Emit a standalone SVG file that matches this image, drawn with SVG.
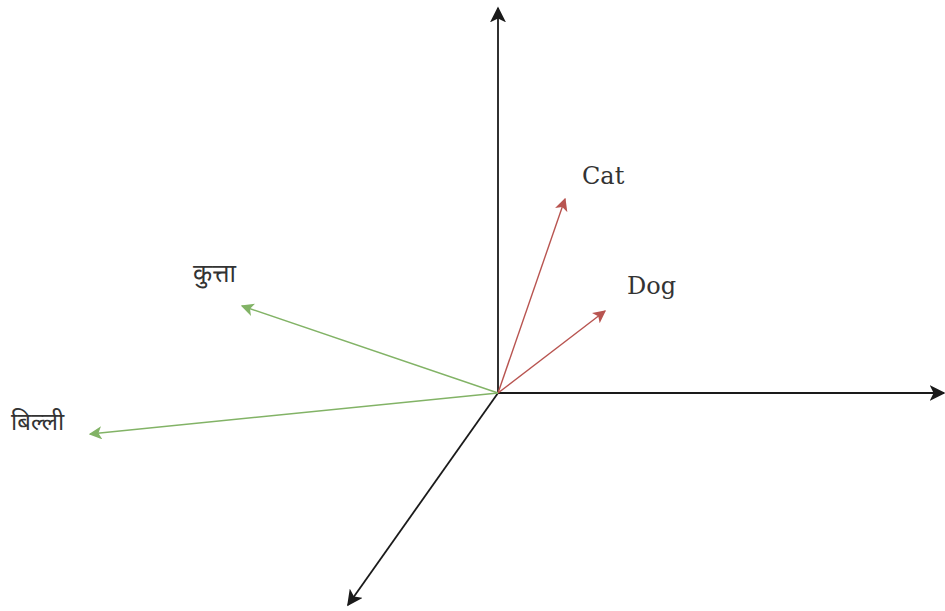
<svg xmlns="http://www.w3.org/2000/svg" width="945" height="611" viewBox="0 0 945 611">
<style>
.ax{stroke:#1a1a1a;stroke-width:1.8;fill:none}
.red{stroke:#b85450;stroke-width:1.4;fill:none}
.grn{stroke:#82b366;stroke-width:1.4;fill:none}
.lbl{font-family:"DejaVu Serif","Liberation Serif",serif;font-size:24px;fill:#333}
.hin{font-family:"Noto Sans","DejaVu Sans",sans-serif;font-size:24px;fill:#333}
</style>
<defs>
<marker id="mr" viewBox="0 0 10 10" refX="9" refY="5" markerWidth="13" markerHeight="13" orient="auto" markerUnits="userSpaceOnUse">
<path d="M0,0 L10,5 L0,10 L2.5,5 Z" fill="#b85450"/>
</marker>
<marker id="mg" viewBox="0 0 10 10" refX="9" refY="5" markerWidth="13" markerHeight="13" orient="auto" markerUnits="userSpaceOnUse">
<path d="M0,0 L10,5 L0,10 L2.5,5 Z" fill="#82b366"/>
</marker>
<marker id="mb" viewBox="0 0 10 10" refX="9" refY="5" markerWidth="16" markerHeight="16" orient="auto" markerUnits="userSpaceOnUse">
<path d="M0,0 L10,5 L0,10 L2.5,5 Z" fill="#1a1a1a"/>
</marker>
</defs>
<rect width="945" height="611" fill="#fff"/>
<g id="connectors">
<line class="ax" x1="498" y1="393" x2="498" y2="8" marker-end="url(#mb)"/>
<line class="ax" x1="498" y1="393" x2="944" y2="393" marker-end="url(#mb)"/>
<line class="ax" x1="498" y1="393" x2="348" y2="605" marker-end="url(#mb)"/>
<line class="red" x1="498" y1="393" x2="565" y2="199" marker-end="url(#mr)"/>
<line class="red" x1="498" y1="393" x2="605" y2="311" marker-end="url(#mr)"/>
<line class="grn" x1="498" y1="393" x2="242" y2="306" marker-end="url(#mg)"/>
<line class="grn" x1="498" y1="393" x2="90" y2="434" marker-end="url(#mg)"/>
</g>
<g id="cat"><text class="lbl" x="582" y="184">Cat</text></g>
<g id="dog"><text class="lbl" x="627" y="294">Dog</text></g>
<g id="kutta"><text class="hin" x="193" y="282" style="font-size:25px">कुत्ता</text></g>
<g id="billi"><text class="hin" x="11" y="430">बिल्ली</text></g>
</svg>
